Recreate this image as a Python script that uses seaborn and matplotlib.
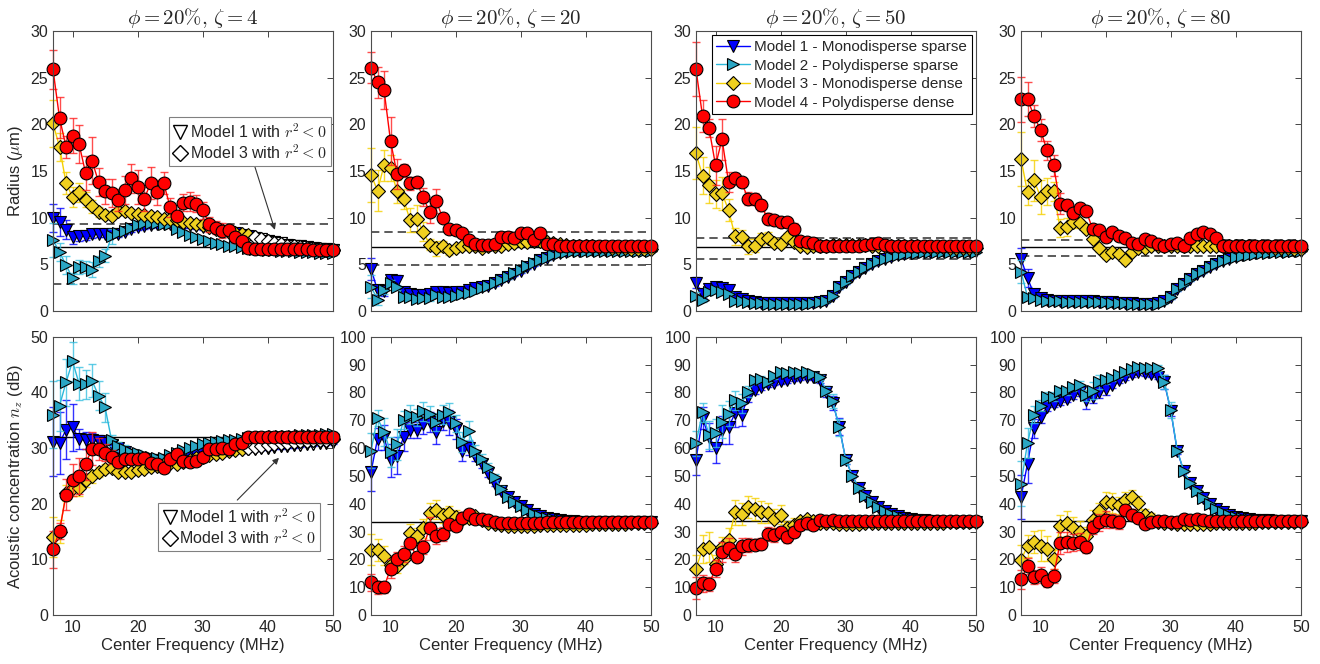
import numpy as np
import pandas as pd
import seaborn as sns
import matplotlib.pyplot as plt
from matplotlib.lines import Line2D

# center frequencies (MHz)
freq = list(range(7, 51))

# ---- Radius (um), zeta = 4 ----
rad_z4_m1 = [10.0, 9.5, 8.7, 7.9, 8.0, 8.0, 8.2, 8.2, 8.2, 8.2,
             8.2, 8.5, 8.8, 9.0, 9.1, 9.2, 9.3, 9.3, 9.3, 9.3,
             9.2, 9.2, 9.1, 9.0, 8.9, 8.8, 8.6, 8.5, 8.3, 8.1,
             8.0, 7.8, 7.7, 7.5, 7.4, 7.3, 7.1, 7.0, 6.9, 6.8,
             6.7, 6.6, 6.6, 6.5]
rad_z4_m1_err = [1.5, 1.5, 1.0, 0.7, 0.5, 0.4, 0.4, 0.3, 0.3, 0.3,
                 0.3, 0.3, 0.3, 0.3, 0.3, 0.3, 0.3, 0.3, 0.3, 0.3,
                 0.3, 0.3, 0.3, 0.3, 0.3, 0.3, 0.3, 0.3, 0.3, 0.3,
                 0.2, 0.2, 0.2, 0.2, 0.2, 0.2, 0.2, 0.2, 0.2, 0.2,
                 0.2, 0.2, 0.2, 0.2]
rad_z4_m2 = [7.6, 6.3, 4.9, 3.5, 4.7, 4.7, 4.4, 5.3, 5.9, 8.0,
             8.3, 8.6, 8.9, 9.2, 9.4, 9.4, 9.4, 9.3, 9.3, 8.8,
             8.4, 8.1, 7.9, 7.7, 7.5, 7.3, 7.2, 7.0, 6.9, 6.8,
             6.7, 6.6, 6.6, 6.5, 6.5, 6.4, 6.4, 6.4, 6.3, 6.3,
             6.3, 6.2, 6.2, 6.2]
rad_z4_m2_err = [1.8, 1.0, 1.0, 0.6, 0.8, 0.6, 0.8, 0.6, 0.7, 0.8,
                 0.3, 0.3, 0.2, 0.2, 0.2, 0.2, 0.2, 0.2, 0.2, 0.2,
                 0.2, 0.2, 0.2, 0.2, 0.2, 0.2, 0.2, 0.2, 0.2, 0.2,
                 0.2, 0.2, 0.2, 0.2, 0.2, 0.2, 0.2, 0.2, 0.2, 0.2,
                 0.2, 0.2, 0.2, 0.2]
rad_z4_m3 = [20.1, 17.6, 13.7, 12.2, 12.7, 11.9, 11.2, 10.6, 10.3, 10.2,
             10.7, 10.7, 10.5, 10.4, 10.3, 10.2, 10.1, 9.9, 9.8, 9.7,
             9.5, 9.4, 9.3, 9.2, 9.0, 8.8, 8.7, 8.5, 8.3, 8.2,
             8.1, 7.9, 7.7, 7.5, 7.3, 7.2, 7.0, 6.9, 6.8, 6.7,
             6.6, 6.6, 6.5, 6.5]
rad_z4_m3_err = [2.5, 1.5, 1.2, 1.1, 1.0, 0.8, 0.7, 0.5, 0.5, 0.4,
                 0.4, 0.4, 0.3, 0.3, 0.3, 0.3, 0.3, 0.3, 0.3, 0.3,
                 0.3, 0.3, 0.3, 0.3, 0.3, 0.3, 0.3, 0.3, 0.3, 0.3,
                 0.2, 0.2, 0.2, 0.2, 0.2, 0.2, 0.2, 0.2, 0.2, 0.2,
                 0.2, 0.2, 0.2, 0.2]
rad_z4_m4 = [25.9, 20.7, 17.6, 18.8, 17.9, 14.8, 16.1, 13.8, 12.8, 12.6,
             11.9, 13.0, 14.2, 13.3, 12.0, 13.7, 12.7, 13.7, 11.1, 10.2,
             11.6, 11.7, 11.5, 10.8, 9.3, 8.9, 8.6, 8.7, 7.9, 7.5,
             6.7, 6.6, 6.6, 6.6, 6.6, 6.6, 6.6, 6.6, 6.6, 6.6,
             6.5, 6.5, 6.5, 6.5]
rad_z4_m4_err = [2.1, 2.2, 1.2, 1.9, 2.0, 1.8, 2.5, 1.5, 1.3, 1.5,
                 1.2, 1.5, 1.6, 1.8, 1.3, 1.7, 1.3, 1.2, 1.0, 0.6,
                 0.9, 1.0, 0.9, 0.9, 0.8, 0.7, 0.8, 0.5, 0.6, 0.5,
                 0.3, 0.2, 0.2, 0.2, 0.2, 0.2, 0.2, 0.2, 0.2, 0.2,
                 0.2, 0.2, 0.2, 0.2]

# ---- Radius (um), zeta = 20 ----
rad_z20_m1 = [4.5, 2.2, 2.1, 3.3, 3.2, 2.0, 1.8, 1.7, 1.7, 1.8,
              2.0, 2.0, 1.9, 2.0, 2.0, 2.2, 2.4, 2.5, 2.7, 3.0,
              3.3, 3.6, 3.9, 4.3, 4.7, 5.0, 5.4, 5.7, 6.0, 6.2,
              6.3, 6.4, 6.4, 6.5, 6.5, 6.5, 6.5, 6.5, 6.5, 6.5,
              6.5, 6.5, 6.5, 6.5]
rad_z20_m1_err = [1.2, 0.5, 0.5, 0.4, 0.6, 0.4, 0.3, 0.3, 0.3, 0.3,
                  0.3, 0.3, 0.3, 0.3, 0.3, 0.3, 0.3, 0.3, 0.3, 0.3,
                  0.2, 0.2, 0.2, 0.2, 0.2, 0.2, 0.2, 0.2, 0.2, 0.2,
                  0.2, 0.2, 0.2, 0.2, 0.2, 0.2, 0.2, 0.2, 0.2, 0.2,
                  0.2, 0.2, 0.2, 0.2]
rad_z20_m2 = [2.6, 1.2, 2.2, 3.0, 2.5, 1.5, 1.5, 1.3, 1.4, 1.4,
              1.7, 1.5, 1.5, 1.6, 1.8, 1.9, 2.1, 2.4, 2.7, 3.0,
              3.3, 3.6, 4.0, 4.4, 4.8, 5.1, 5.4, 5.7, 6.0, 6.2,
              6.3, 6.4, 6.4, 6.4, 6.4, 6.4, 6.4, 6.4, 6.4, 6.4,
              6.4, 6.4, 6.4, 6.4]
rad_z20_m2_err = [1.2, 0.6, 0.4, 0.3, 0.3, 0.3, 0.3, 0.3, 0.3, 0.3,
                  0.2, 0.2, 0.2, 0.2, 0.2, 0.2, 0.2, 0.2, 0.2, 0.2,
                  0.2, 0.2, 0.2, 0.2, 0.2, 0.2, 0.2, 0.2, 0.2, 0.2,
                  0.2, 0.2, 0.2, 0.2, 0.2, 0.2, 0.2, 0.2, 0.2, 0.2,
                  0.2, 0.2, 0.2, 0.2]
rad_z20_m3 = [14.6, 12.9, 15.6, 15.3, 12.8, 12.0, 9.7, 9.9, 8.5, 7.1,
              6.7, 6.9, 6.5, 6.7, 6.9, 6.9, 6.9, 6.7, 6.9, 7.0,
              7.0, 7.2, 7.3, 7.4, 7.4, 7.5, 7.5, 7.4, 7.3, 7.2,
              7.1, 7.0, 7.0, 6.9, 6.9, 6.8, 6.8, 6.7, 6.7, 6.7,
              6.6, 6.6, 6.6, 6.6]
rad_z20_m3_err = [2.9, 2.2, 1.7, 1.4, 1.2, 1.1, 1.3, 1.4, 1.0, 0.6,
                  0.8, 0.6, 0.5, 0.4, 0.4, 0.4, 0.3, 0.3, 0.3, 0.3,
                  0.3, 0.3, 0.3, 0.3, 0.3, 0.3, 0.3, 0.3, 0.3, 0.3,
                  0.2, 0.2, 0.2, 0.2, 0.2, 0.2, 0.2, 0.2, 0.2, 0.2,
                  0.2, 0.2, 0.2, 0.2]
rad_z20_m4 = [26.1, 24.5, 23.7, 18.2, 14.7, 15.1, 13.7, 13.8, 12.2, 10.6,
              11.8, 10.0, 8.8, 8.7, 8.3, 7.6, 7.2, 7.1, 7.1, 7.2,
              7.9, 7.9, 7.8, 8.3, 8.3, 7.6, 8.3, 7.2, 7.2, 7.0,
              6.9, 6.9, 6.9, 6.9, 6.9, 6.9, 6.9, 6.9, 6.9, 6.9,
              6.9, 6.9, 6.9, 6.9]
rad_z20_m4_err = [1.7, 1.7, 2.0, 2.6, 1.6, 0.7, 0.7, 0.6, 1.0, 1.2,
                  1.3, 0.5, 0.4, 0.4, 0.3, 0.3, 0.3, 0.3, 0.3, 0.3,
                  0.5, 0.5, 0.4, 0.5, 0.5, 0.3, 0.3, 0.3, 0.3, 0.3,
                  0.2, 0.2, 0.2, 0.2, 0.2, 0.2, 0.2, 0.2, 0.2, 0.2,
                  0.2, 0.2, 0.2, 0.2]

# ---- Radius (um), zeta = 50 ----
rad_z50_m1 = [3.0, 1.8, 2.3, 2.6, 2.4, 2.2, 1.5, 1.3, 1.0, 0.9,
              0.8, 0.8, 0.8, 0.8, 0.8, 0.8, 0.8, 0.8, 0.8, 0.9,
              1.0, 1.6, 2.5, 3.1, 3.7, 4.2, 4.6, 5.0, 5.3, 5.6,
              5.8, 6.0, 6.1, 6.2, 6.3, 6.3, 6.3, 6.4, 6.4, 6.4,
              6.4, 6.4, 6.4, 6.4]
rad_z50_m1_err = [0.6, 0.4, 0.4, 0.4, 0.4, 0.3, 0.3, 0.2, 0.2, 0.2,
                  0.2, 0.2, 0.2, 0.2, 0.2, 0.2, 0.2, 0.2, 0.2, 0.2,
                  0.2, 0.2, 0.2, 0.2, 0.2, 0.2, 0.2, 0.2, 0.2, 0.2,
                  0.2, 0.2, 0.2, 0.2, 0.2, 0.2, 0.2, 0.2, 0.2, 0.2,
                  0.2, 0.2, 0.2, 0.2]
rad_z50_m2 = [1.6, 1.2, 2.0, 2.2, 2.0, 1.8, 1.0, 1.0, 0.9, 0.8,
              0.8, 0.7, 0.7, 0.7, 0.7, 0.7, 0.7, 0.7, 0.8, 0.9,
              1.0, 1.6, 2.5, 3.1, 3.7, 4.2, 4.6, 5.0, 5.3, 5.6,
              5.8, 6.0, 6.1, 6.2, 6.2, 6.3, 6.3, 6.3, 6.3, 6.3,
              6.3, 6.3, 6.3, 6.3]
rad_z50_m2_err = [0.4, 0.3, 0.3, 0.3, 0.3, 0.2, 0.2, 0.2, 0.2, 0.2,
                  0.2, 0.2, 0.2, 0.2, 0.2, 0.2, 0.2, 0.2, 0.2, 0.2,
                  0.2, 0.2, 0.2, 0.2, 0.2, 0.2, 0.2, 0.2, 0.2, 0.2,
                  0.2, 0.2, 0.2, 0.2, 0.2, 0.2, 0.2, 0.2, 0.2, 0.2,
                  0.2, 0.2, 0.2, 0.2]
rad_z50_m3 = [16.9, 14.5, 13.5, 12.5, 12.6, 10.8, 8.0, 7.9, 6.9, 7.0,
              7.7, 7.8, 7.3, 7.2, 7.9, 7.4, 6.9, 6.8, 7.0, 7.0,
              7.0, 7.1, 7.1, 7.1, 7.1, 7.1, 7.1, 7.0, 7.0, 7.0,
              7.0, 6.9, 6.9, 6.9, 6.9, 6.8, 6.8, 6.8, 6.8, 6.7,
              6.7, 6.7, 6.7, 6.7]
rad_z50_m3_err = [2.8, 2.0, 1.9, 1.5, 1.8, 1.2, 0.9, 0.8, 0.8, 0.7,
                  0.6, 0.6, 0.5, 0.5, 0.4, 0.3, 0.3, 0.3, 0.3, 0.3,
                  0.3, 0.3, 0.3, 0.3, 0.3, 0.3, 0.3, 0.3, 0.3, 0.3,
                  0.2, 0.2, 0.2, 0.2, 0.2, 0.2, 0.2, 0.2, 0.2, 0.2,
                  0.2, 0.2, 0.2, 0.2]
rad_z50_m4 = [25.9, 20.9, 19.6, 15.6, 18.4, 13.8, 14.3, 13.8, 12.0, 12.0,
              11.3, 9.9, 9.7, 9.5, 9.5, 8.8, 7.5, 7.4, 7.3, 7.0,
              6.9, 6.9, 6.9, 6.9, 7.0, 7.0, 7.1, 7.2, 7.3, 7.1,
              7.0, 6.9, 6.9, 6.9, 6.9, 6.9, 6.9, 6.9, 6.9, 6.9,
              6.9, 6.9, 6.9, 6.9]
rad_z50_m4_err = [2.9, 1.7, 1.0, 2.1, 2.2, 1.1, 0.5, 0.5, 0.7, 0.6,
                  0.6, 0.6, 0.5, 0.5, 0.5, 0.6, 0.3, 0.3, 0.3, 0.3,
                  0.3, 0.3, 0.3, 0.3, 0.3, 0.3, 0.3, 0.3, 0.3, 0.3,
                  0.2, 0.2, 0.2, 0.2, 0.2, 0.2, 0.2, 0.2, 0.2, 0.2,
                  0.2, 0.2, 0.2, 0.2]

# ---- Radius (um), zeta = 80 ----
rad_z80_m1 = [5.6, 3.5, 1.8, 1.4, 1.2, 1.1, 1.0, 1.0, 1.0, 1.0,
              1.0, 1.0, 0.9, 0.9, 0.9, 0.8, 0.8, 0.8, 0.7, 0.7,
              0.7, 0.8, 1.0, 1.5, 2.3, 2.9, 3.4, 3.9, 4.3, 4.7,
              5.0, 5.3, 5.6, 5.8, 6.0, 6.1, 6.2, 6.3, 6.3, 6.4,
              6.4, 6.4, 6.4, 6.4]
rad_z80_m1_err = [1.1, 1.0, 0.3, 0.2, 0.2, 0.2, 0.2, 0.2, 0.2, 0.2,
                  0.2, 0.2, 0.2, 0.2, 0.2, 0.2, 0.2, 0.2, 0.2, 0.2,
                  0.2, 0.2, 0.2, 0.2, 0.2, 0.2, 0.2, 0.2, 0.2, 0.2,
                  0.2, 0.2, 0.2, 0.2, 0.2, 0.2, 0.2, 0.2, 0.2, 0.2,
                  0.2, 0.2, 0.2, 0.2]
rad_z80_m2 = [4.2, 1.5, 1.4, 1.2, 1.1, 1.0, 1.0, 0.9, 0.9, 0.9,
              0.9, 0.9, 0.9, 0.9, 0.8, 0.8, 0.8, 0.7, 0.7, 0.7,
              0.7, 0.7, 0.9, 1.5, 2.3, 2.9, 3.4, 3.9, 4.3, 4.7,
              5.0, 5.3, 5.6, 5.8, 5.9, 6.0, 6.1, 6.2, 6.2, 6.3,
              6.3, 6.3, 6.4, 6.4]
rad_z80_m2_err = [1.2, 0.3, 0.2, 0.2, 0.2, 0.2, 0.2, 0.2, 0.2, 0.2,
                  0.2, 0.2, 0.2, 0.2, 0.2, 0.2, 0.2, 0.2, 0.2, 0.2,
                  0.2, 0.2, 0.2, 0.2, 0.2, 0.2, 0.2, 0.2, 0.2, 0.2,
                  0.2, 0.2, 0.2, 0.2, 0.2, 0.2, 0.2, 0.2, 0.2, 0.2,
                  0.2, 0.2, 0.2, 0.2]
rad_z80_m3 = [16.3, 12.7, 14.0, 12.2, 12.8, 12.8, 8.9, 9.0, 9.5, 9.4,
              8.8, 7.7, 6.7, 6.0, 6.3, 6.1, 5.4, 6.3, 6.7, 6.7,
              6.9, 7.0, 7.0, 6.9, 7.0, 7.0, 7.0, 7.0, 7.0, 7.0,
              7.0, 7.0, 7.0, 7.0, 6.9, 6.9, 6.8, 6.8, 6.8, 6.7,
              6.7, 6.7, 6.6, 6.6]
rad_z80_m3_err = [2.9, 1.3, 2.2, 1.8, 1.5, 1.0, 1.0, 1.0, 0.6, 0.5,
                  0.4, 0.4, 0.4, 0.4, 0.4, 0.4, 0.4, 0.3, 0.3, 0.3,
                  0.3, 0.3, 0.3, 0.3, 0.3, 0.3, 0.3, 0.3, 0.3, 0.3,
                  0.2, 0.2, 0.2, 0.2, 0.2, 0.2, 0.2, 0.2, 0.2, 0.2,
                  0.2, 0.2, 0.2, 0.2]
rad_z80_m4 = [22.7, 22.7, 20.9, 19.4, 17.2, 15.6, 11.5, 11.3, 10.5, 11.0,
              10.7, 8.8, 8.7, 7.9, 8.5, 8.0, 7.8, 7.3, 7.2, 7.7,
              7.5, 7.2, 7.0, 7.2, 7.3, 7.0, 7.8, 8.2, 8.5, 8.2,
              7.8, 7.0, 6.9, 6.9, 6.9, 6.9, 6.9, 6.9, 6.9, 6.9,
              6.9, 6.9, 6.9, 6.9]
rad_z80_m4_err = [2.4, 1.8, 1.2, 1.2, 1.0, 1.1, 1.1, 0.6, 0.6, 0.6,
                  0.5, 0.5, 0.3, 0.3, 0.3, 0.3, 0.3, 0.3, 0.3, 0.3,
                  0.3, 0.3, 0.3, 0.3, 0.3, 0.3, 0.4, 0.4, 0.4, 0.4,
                  0.3, 0.2, 0.2, 0.2, 0.2, 0.2, 0.2, 0.2, 0.2, 0.2,
                  0.2, 0.2, 0.2, 0.2]

# ---- Acoustic concentration nz (dB), zeta = 4 ----
nz_z4_m1 = [31.1, 30.9, 33.3, 33.7, 31.7, 31.4, 31.4, 31.3, 31.0, 30.5,
            30.0, 29.3, 28.8, 28.3, 28.0, 27.8, 27.8, 27.9, 28.0, 28.2,
            28.4, 28.6, 28.8, 29.0, 29.2, 29.3, 29.4, 29.5, 29.6, 29.7,
            29.8, 29.9, 30.0, 30.1, 30.2, 30.3, 30.4, 30.5, 30.6, 30.7,
            30.8, 30.9, 31.0, 31.1]
nz_z4_m1_err = [6.2, 5.5, 5.3, 4.3, 1.8, 1.5, 1.3, 1.0, 1.0, 0.8,
                0.6, 0.5, 0.5, 0.5, 0.5, 0.5, 0.5, 0.5, 0.5, 0.5,
                0.5, 0.5, 0.5, 0.5, 0.5, 0.5, 0.5, 0.5, 0.5, 0.5,
                0.4, 0.4, 0.4, 0.4, 0.4, 0.4, 0.4, 0.4, 0.4, 0.4,
                0.4, 0.4, 0.4, 0.4]
nz_z4_m2 = [36.0, 37.6, 41.8, 45.6, 41.6, 41.5, 42.1, 39.4, 37.3, 31.4,
            30.3, 29.9, 29.3, 29.2, 28.7, 28.4, 28.3, 28.3, 28.7, 29.2,
            29.6, 30.1, 30.4, 30.7, 31.0, 31.1, 31.3, 31.4, 31.5, 31.7,
            31.8, 31.9, 32.0, 32.0, 32.1, 32.1, 32.2, 32.2, 32.3, 32.3,
            32.4, 32.4, 32.5, 32.5]
nz_z4_m2_err = [6.0, 4.6, 4.2, 3.5, 3.0, 2.6, 3.0, 2.6, 2.6, 1.0,
                0.8, 0.6, 0.5, 0.5, 0.5, 0.5, 0.5, 0.5, 0.5, 0.5,
                0.5, 0.5, 0.5, 0.5, 0.5, 0.5, 0.5, 0.5, 0.5, 0.5,
                0.4, 0.4, 0.4, 0.4, 0.4, 0.4, 0.4, 0.4, 0.4, 0.4,
                0.4, 0.4, 0.4, 0.4]
nz_z4_m3 = [14.1, 15.0, 21.9, 22.8, 22.8, 24.2, 24.9, 25.7, 26.3, 26.5,
            25.7, 25.7, 25.7, 26.0, 26.2, 26.6, 26.8, 27.1, 27.4, 27.2,
            27.5, 27.8, 28.3, 28.4, 28.7, 29.0, 29.2, 29.5, 29.6, 29.9,
            30.1, 30.2, 30.4, 30.6, 30.8, 30.9, 31.0, 31.1, 31.2, 31.3,
            31.4, 31.5, 31.5, 31.6]
nz_z4_m3_err = [3.6, 2.0, 1.5, 1.5, 1.4, 1.2, 1.1, 0.9, 0.8, 0.7,
                0.6, 0.6, 0.5, 0.5, 0.5, 0.5, 0.5, 0.5, 0.5, 0.5,
                0.5, 0.5, 0.5, 0.5, 0.5, 0.5, 0.5, 0.5, 0.5, 0.5,
                0.4, 0.4, 0.4, 0.4, 0.4, 0.4, 0.4, 0.4, 0.4, 0.4,
                0.4, 0.4, 0.4, 0.4]
nz_z4_m4 = [11.8, 15.1, 21.6, 24.2, 25.0, 27.1, 29.9, 29.8, 29.2, 28.4,
            27.5, 28.0, 28.0, 28.1, 28.3, 27.4, 27.1, 26.5, 28.0, 29.0,
            27.7, 27.5, 27.7, 28.4, 29.9, 29.9, 30.0, 29.9, 30.7, 31.0,
            31.9, 32.0, 32.0, 32.0, 32.0, 32.0, 32.0, 32.0, 32.0, 32.0,
            32.0, 32.0, 32.0, 32.0]
nz_z4_m4_err = [3.3, 1.4, 2.8, 2.9, 3.3, 2.8, 2.9, 2.0, 1.5, 1.3,
                1.0, 0.8, 0.7, 0.6, 0.6, 0.6, 0.6, 0.6, 0.6, 0.6,
                0.6, 0.6, 0.6, 0.6, 0.6, 0.6, 0.6, 0.6, 0.6, 0.6,
                0.4, 0.4, 0.4, 0.4, 0.4, 0.4, 0.4, 0.4, 0.4, 0.4,
                0.4, 0.4, 0.4, 0.4]

# ---- Acoustic concentration nz (dB), zeta = 20 ----
nz_z20_m1 = [51.4, 63.3, 63.9, 55.6, 57.3, 63.9, 66.5, 66.5, 68.7, 69.3,
             65.9, 69.9, 69.3, 66.9, 58.8, 60.0, 57.3, 54.4, 51.0, 47.2,
             44.6, 42.4, 40.6, 39.1, 37.6, 36.4, 35.5, 34.9, 34.4, 34.0,
             33.8, 33.7, 33.6, 33.5, 33.5, 33.5, 33.5, 33.5, 33.5, 33.5,
             33.5, 33.5, 33.5, 33.5]
nz_z20_m1_err = [7.0, 4.0, 4.5, 6.0, 6.5, 5.0, 3.0, 3.0, 3.5, 3.5,
                 4.5, 3.5, 4.5, 3.5, 3.5, 2.5, 2.0, 1.5, 1.3, 1.0,
                 1.0, 0.8, 0.8, 0.6, 0.6, 0.6, 0.6, 0.6, 0.6, 0.6,
                 0.6, 0.6, 0.6, 0.6, 0.6, 0.6, 0.6, 0.6, 0.6, 0.6,
                 0.6, 0.6, 0.6, 0.6]
nz_z20_m2 = [59.0, 70.8, 65.8, 58.6, 61.3, 70.0, 72.0, 71.1, 73.2, 72.3,
             69.3, 72.0, 72.9, 68.9, 62.1, 66.3, 59.1, 56.2, 53.2, 49.6,
             45.4, 42.4, 40.6, 39.1, 37.6, 36.4, 35.5, 34.9, 34.4, 34.0,
             33.8, 33.7, 33.6, 33.5, 33.5, 33.5, 33.5, 33.5, 33.5, 33.5,
             33.5, 33.5, 33.5, 33.5]
nz_z20_m2_err = [6.3, 3.0, 5.0, 5.5, 5.5, 3.3, 3.5, 3.0, 3.3, 3.0,
                 3.2, 3.5, 3.3, 3.0, 3.5, 3.3, 2.0, 1.5, 1.3, 1.0,
                 0.8, 0.8, 0.6, 0.6, 0.6, 0.6, 0.6, 0.6, 0.6, 0.6,
                 0.6, 0.6, 0.6, 0.6, 0.6, 0.6, 0.6, 0.6, 0.6, 0.6,
                 0.6, 0.6, 0.6, 0.6]
nz_z20_m3 = [23.5, 23.3, 21.3, 17.9, 17.6, 20.3, 29.3, 28.3, 31.1, 36.7,
             37.9, 35.8, 36.7, 35.2, 34.6, 35.0, 35.5, 34.1, 33.2, 32.6,
             32.3, 31.9, 32.0, 32.0, 32.1, 32.1, 32.2, 32.2, 32.3, 32.3,
             32.4, 32.4, 32.5, 32.5, 32.6, 32.6, 32.7, 32.7, 32.8, 32.8,
             32.9, 33.0, 33.1, 33.2]
nz_z20_m3_err = [5.5, 4.0, 3.5, 2.5, 2.5, 2.0, 3.5, 3.0, 3.5, 3.5,
                 3.5, 2.8, 2.5, 2.5, 2.0, 1.5, 1.0, 0.8, 0.6, 0.6,
                 0.6, 0.6, 0.6, 0.6, 0.6, 0.6, 0.6, 0.6, 0.6, 0.6,
                 0.6, 0.6, 0.6, 0.6, 0.6, 0.6, 0.6, 0.6, 0.6, 0.6,
                 0.6, 0.6, 0.6, 0.6]
nz_z20_m4 = [11.7, 9.9, 9.9, 16.7, 20.0, 21.9, 25.7, 20.9, 24.5, 31.1,
             28.4, 29.0, 32.6, 32.0, 35.0, 36.2, 34.6, 34.4, 34.1, 33.5,
             33.2, 33.1, 33.0, 33.1, 33.2, 33.2, 33.2, 33.3, 33.3, 33.3,
             33.3, 33.3, 33.3, 33.3, 33.3, 33.3, 33.3, 33.3, 33.3, 33.3,
             33.3, 33.3, 33.3, 33.3]
nz_z20_m4_err = [3.0, 2.3, 2.0, 3.5, 2.5, 3.0, 2.0, 1.5, 2.5, 4.0,
                 3.0, 2.5, 2.0, 1.5, 2.0, 1.5, 1.0, 0.8, 0.6, 0.6,
                 0.6, 0.6, 0.6, 0.6, 0.6, 0.6, 0.6, 0.6, 0.6, 0.6,
                 0.6, 0.6, 0.6, 0.6, 0.6, 0.6, 0.6, 0.6, 0.6, 0.6,
                 0.6, 0.6, 0.6, 0.6]

# ---- Acoustic concentration nz (dB), zeta = 50 ----
nz_z50_m1 = [55.8, 70.7, 63.9, 60.0, 66.5, 67.5, 72.5, 71.9, 78.5, 80.9,
             82.1, 82.9, 83.5, 84.1, 84.5, 85.1, 85.4, 85.7, 85.4, 84.5,
             80.3, 76.3, 67.7, 55.8, 50.1, 45.6, 42.7, 40.5, 38.8, 37.3,
             36.3, 35.5, 34.9, 34.5, 34.2, 34.0, 33.8, 33.7, 33.6, 33.5,
             33.5, 33.5, 33.5, 33.5]
nz_z50_m1_err = [5.5, 4.0, 5.0, 5.5, 5.0, 6.0, 5.0, 4.0, 2.0, 1.5,
                 1.2, 1.0, 1.0, 1.0, 1.0, 1.0, 1.0, 1.0, 1.0, 1.2,
                 2.0, 2.5, 3.0, 1.5, 1.0, 0.8, 0.8, 0.6, 0.6, 0.6,
                 0.6, 0.6, 0.6, 0.6, 0.6, 0.6, 0.6, 0.6, 0.6, 0.6,
                 0.6, 0.6, 0.6, 0.6]
nz_z50_m2 = [61.8, 72.8, 64.8, 65.4, 69.5, 72.3, 77.1, 76.1, 80.3, 84.5,
             84.8, 83.9, 85.9, 87.5, 87.1, 87.5, 87.1, 87.2, 86.5, 85.4,
             80.6, 76.9, 67.4, 55.8, 50.1, 45.6, 42.7, 40.5, 38.8, 37.3,
             36.3, 35.5, 34.9, 34.5, 34.2, 34.0, 33.8, 33.7, 33.6, 33.5,
             33.5, 33.5, 33.5, 33.5]
nz_z50_m2_err = [4.5, 3.5, 5.0, 5.0, 6.0, 4.5, 3.5, 3.5, 2.0, 1.5,
                 1.0, 1.0, 1.0, 1.0, 1.0, 1.0, 1.0, 1.0, 1.0, 1.0,
                 1.5, 2.5, 3.0, 1.5, 1.0, 0.8, 0.8, 0.6, 0.6, 0.6,
                 0.6, 0.6, 0.6, 0.6, 0.6, 0.6, 0.6, 0.6, 0.6, 0.6,
                 0.6, 0.6, 0.6, 0.6]
nz_z50_m3 = [16.6, 23.8, 24.4, 18.2, 24.5, 27.1, 36.9, 36.4, 38.8, 38.2,
             36.9, 36.7, 34.5, 36.1, 31.3, 32.5, 33.9, 34.5, 33.7, 33.2,
             33.0, 33.0, 32.8, 32.8, 32.8, 32.8, 32.9, 32.9, 32.9, 33.0,
             33.0, 33.0, 33.0, 33.1, 33.1, 33.1, 33.2, 33.2, 33.2, 33.3,
             33.3, 33.3, 33.4, 33.4]
nz_z50_m3_err = [5.0, 5.0, 5.5, 3.5, 3.5, 4.0, 4.5, 4.0, 4.0, 4.0,
                 4.0, 3.5, 3.5, 3.5, 2.5, 2.5, 1.5, 1.0, 0.8, 0.6,
                 0.6, 0.6, 0.6, 0.6, 0.6, 0.6, 0.6, 0.6, 0.6, 0.6,
                 0.6, 0.6, 0.6, 0.6, 0.6, 0.6, 0.6, 0.6, 0.6, 0.6,
                 0.6, 0.6, 0.6, 0.6]
nz_z50_m4 = [9.8, 11.4, 11.2, 16.6, 22.6, 24.1, 22.1, 24.7, 25.0, 25.3,
             25.6, 29.2, 28.7, 29.7, 28.0, 29.9, 32.5, 32.9, 32.5, 34.1,
             33.7, 34.1, 33.7, 33.8, 33.8, 33.8, 33.8, 33.8, 33.8, 33.8,
             33.8, 33.8, 33.8, 33.8, 33.8, 33.8, 33.8, 33.8, 33.8, 33.8,
             33.8, 33.8, 33.8, 33.8]
nz_z50_m4_err = [4.0, 3.0, 2.5, 3.0, 3.5, 3.5, 3.0, 3.0, 2.5, 2.0,
                 2.0, 2.5, 2.5, 2.0, 2.0, 2.0, 1.5, 1.0, 0.8, 0.6,
                 0.6, 0.6, 0.6, 0.6, 0.6, 0.6, 0.6, 0.6, 0.6, 0.6,
                 0.6, 0.6, 0.6, 0.6, 0.6, 0.6, 0.6, 0.6, 0.6, 0.6,
                 0.6, 0.6, 0.6, 0.6]

# ---- Acoustic concentration nz (dB), zeta = 80 ----
nz_z80_m1 = [42.4, 54.4, 67.1, 71.1, 74.9, 75.9, 76.8, 77.7, 78.9, 80.0,
             77.1, 78.3, 80.0, 81.2, 82.8, 84.5, 85.4, 86.6, 87.2, 86.9,
             86.6, 85.7, 83.6, 73.5, 58.9, 51.7, 47.4, 44.6, 42.1, 40.0,
             38.2, 37.0, 35.8, 35.2, 34.8, 34.5, 34.3, 34.1, 34.0, 33.9,
             33.9, 33.8, 33.8, 33.8]
nz_z80_m1_err = [8.0, 7.0, 3.5, 2.0, 1.5, 1.2, 1.2, 1.2, 1.2, 1.2,
                 3.0, 2.0, 2.0, 2.0, 1.2, 1.0, 1.0, 1.0, 1.0, 1.0,
                 1.0, 1.0, 2.5, 2.0, 1.0, 0.8, 0.8, 0.6, 0.6, 0.6,
                 0.6, 0.6, 0.6, 0.6, 0.6, 0.6, 0.6, 0.6, 0.6, 0.6,
                 0.6, 0.6, 0.6, 0.6]
nz_z80_m2 = [47.2, 61.8, 72.0, 75.3, 78.5, 78.5, 80.6, 80.4, 81.8, 82.8,
             78.9, 80.6, 83.6, 84.5, 85.2, 86.3, 87.2, 88.4, 89.0, 88.8,
             88.6, 88.8, 83.9, 73.7, 59.1, 51.7, 47.4, 44.6, 42.1, 40.0,
             38.2, 37.0, 35.8, 35.2, 34.8, 34.5, 34.3, 34.1, 34.0, 33.9,
             33.9, 33.8, 33.8, 33.8]
nz_z80_m2_err = [8.0, 5.5, 3.0, 2.0, 1.5, 1.5, 1.2, 1.2, 1.2, 1.2,
                 2.0, 3.0, 2.5, 1.5, 1.2, 1.0, 1.0, 1.0, 1.0, 1.0,
                 1.0, 1.0, 2.5, 3.0, 1.0, 0.8, 0.8, 0.6, 0.6, 0.6,
                 0.6, 0.6, 0.6, 0.6, 0.6, 0.6, 0.6, 0.6, 0.6, 0.6,
                 0.6, 0.6, 0.6, 0.6]
nz_z80_m3 = [19.7, 24.9, 26.3, 24.9, 23.9, 20.0, 32.0, 32.9, 31.1, 29.9,
             28.3, 34.1, 37.4, 40.6, 40.3, 39.4, 41.2, 42.4, 40.3, 36.1,
             35.0, 33.5, 33.2, 33.0, 32.8, 32.7, 32.6, 32.6, 32.7, 32.8,
             32.9, 33.0, 33.0, 33.1, 33.1, 33.2, 33.2, 33.3, 33.3, 33.3,
             33.4, 33.4, 33.5, 33.5]
nz_z80_m3_err = [5.5, 4.0, 4.0, 5.5, 4.5, 3.5, 4.0, 4.5, 4.0, 4.0,
                 3.5, 3.5, 3.0, 3.5, 3.5, 3.0, 3.0, 2.5, 2.5, 2.0,
                 1.5, 1.0, 0.8, 0.6, 0.6, 0.6, 0.6, 0.6, 0.6, 0.6,
                 0.6, 0.6, 0.6, 0.6, 0.6, 0.6, 0.6, 0.6, 0.6, 0.6,
                 0.6, 0.6, 0.6, 0.6]
nz_z80_m4 = [12.8, 17.6, 13.7, 14.3, 12.2, 14.0, 25.9, 26.3, 26.0, 26.3,
             24.3, 31.7, 33.3, 34.3, 33.7, 33.5, 37.6, 36.1, 34.9, 32.6,
             33.5, 33.7, 33.7, 33.6, 33.6, 34.6, 34.3, 34.6, 34.1, 33.9,
             33.9, 33.8, 33.8, 33.8, 33.8, 33.8, 33.8, 33.8, 33.8, 33.8,
             33.8, 33.8, 33.8, 33.8]
nz_z80_m4_err = [3.5, 3.0, 2.5, 2.8, 2.0, 2.5, 4.0, 3.5, 3.0, 3.0,
                 2.0, 2.5, 3.0, 3.0, 2.5, 2.5, 2.0, 2.0, 1.5, 1.0,
                 0.8, 0.6, 0.6, 0.6, 0.6, 0.6, 0.6, 0.6, 0.6, 0.6,
                 0.6, 0.6, 0.6, 0.6, 0.6, 0.6, 0.6, 0.6, 0.6, 0.6,
                 0.6, 0.6, 0.6, 0.6]

# reference lines per panel
zetas = [4, 20, 50, 80]
rad_true = [6.8, 6.8, 6.8, 6.8]
rad_upper = [9.3, 8.4, 7.8, 7.6]
rad_lower = [2.85, 4.95, 5.6, 5.9]
nz_true = [32.0, 33.5, 33.7, 33.7]

# Model 1 / Model 3 fits with r^2 < 0 (zeta = 4 only), from this frequency on
r2neg_rad_from = 38
r2neg_nz_from = 37

model_names = ['Model 1 - Monodisperse sparse', 'Model 2 - Polydisperse sparse',
               'Model 3 - Monodisperse dense', 'Model 4 - Polydisperse dense']
markers = ['v', '>', 'D', 'o']
msizes = [9.2, 9.2, 7.3, 9.2]
face_colors = ['#0000ff', '#2aa6c4', '#f0d020', '#ff0000']
line_colors = ['#0000ff', '#2cb8da', '#f5d000', '#ff0000']
err_colors = ['#0000ff', '#38c0e0', '#f5d000', '#ff2020']

rad_panels = [
    [(rad_z4_m1, rad_z4_m1_err), (rad_z4_m2, rad_z4_m2_err), (rad_z4_m3, rad_z4_m3_err), (rad_z4_m4, rad_z4_m4_err)],
    [(rad_z20_m1, rad_z20_m1_err), (rad_z20_m2, rad_z20_m2_err), (rad_z20_m3, rad_z20_m3_err), (rad_z20_m4, rad_z20_m4_err)],
    [(rad_z50_m1, rad_z50_m1_err), (rad_z50_m2, rad_z50_m2_err), (rad_z50_m3, rad_z50_m3_err), (rad_z50_m4, rad_z50_m4_err)],
    [(rad_z80_m1, rad_z80_m1_err), (rad_z80_m2, rad_z80_m2_err), (rad_z80_m3, rad_z80_m3_err), (rad_z80_m4, rad_z80_m4_err)],
]
nz_panels = [
    [(nz_z4_m1, nz_z4_m1_err), (nz_z4_m2, nz_z4_m2_err), (nz_z4_m3, nz_z4_m3_err), (nz_z4_m4, nz_z4_m4_err)],
    [(nz_z20_m1, nz_z20_m1_err), (nz_z20_m2, nz_z20_m2_err), (nz_z20_m3, nz_z20_m3_err), (nz_z20_m4, nz_z20_m4_err)],
    [(nz_z50_m1, nz_z50_m1_err), (nz_z50_m2, nz_z50_m2_err), (nz_z50_m3, nz_z50_m3_err), (nz_z50_m4, nz_z50_m4_err)],
    [(nz_z80_m1, nz_z80_m1_err), (nz_z80_m2, nz_z80_m2_err), (nz_z80_m3, nz_z80_m3_err), (nz_z80_m4, nz_z80_m4_err)],
]

#Styling
sns.set_style('white')
plt.rcParams['font.family'] = ['Liberation Sans', 'DejaVu Sans']
plt.rcParams['mathtext.fontset'] = 'cm'
plt.rcParams['xtick.direction'] = 'in'
plt.rcParams['ytick.direction'] = 'in'
plt.rcParams['axes.edgecolor'] = '#4d4d4d'
plt.rcParams['axes.linewidth'] = 0.8
plt.rcParams['xtick.color'] = '#262626'
plt.rcParams['ytick.color'] = '#262626'


def draw_series(ax, vals, errs, k, hollow_from=None):
    df = pd.DataFrame({'freq': freq, 'val': vals})
    eb = ax.errorbar(freq, vals, yerr=errs, fmt='none', ecolor=err_colors[k],
                     elinewidth=1.0, capsize=3, capthick=1.0, alpha=0.8)
    for art in eb.lines[1] + eb.lines[2]:
        art.set_clip_on(False)
    sns.lineplot(data=df, x='freq', y='val', ax=ax, color=line_colors[k],
                 linewidth=1.0, marker=markers[k], markersize=msizes[k],
                 markerfacecolor=face_colors[k], markeredgecolor='black',
                 markeredgewidth=0.8, legend=False, clip_on=False)
    if hollow_from is not None:
        sub = df[df['freq'] >= hollow_from]
        ax.plot(sub['freq'], sub['val'], ls='none', marker=markers[k],
                markersize=msizes[k], markerfacecolor='white',
                markeredgecolor='black', markeredgewidth=0.8, clip_on=False)


def style_axis(ax, ylim, yticks):
    ax.set_xlim(7, 50)
    ax.set_ylim(*ylim)
    ax.set_xticks([10, 20, 30, 40, 50])
    ax.set_yticks(yticks)
    ax.tick_params(axis='both', which='both', top=True, right=True,
                   length=4, width=0.6, labelsize=11.5, colors='#262626')
    ax.set_xlabel('')
    ax.set_ylabel('')


fig, axes = plt.subplots(2, 4, figsize=(13.2, 6.64), dpi=100)
lefts = [53, 371, 696, 1021]
for c in range(4):
    axes[0, c].set_position([lefts[c] / 1320, 0.532, 280 / 1320, 0.421])
    axes[1, c].set_position([lefts[c] / 1320, 0.0738, 280 / 1320, 0.419])

for c in range(4):
    # radius row
    ax = axes[0, c]
    ax.axhline(rad_true[c], color='black', lw=1.0, zorder=1)
    ax.axhline(rad_upper[c], color='#404040', lw=1.2, ls=(0, (5, 3)), zorder=1)
    ax.axhline(rad_lower[c], color='#404040', lw=1.2, ls=(0, (5, 3)), zorder=1)
    for k, (vals, errs) in enumerate(rad_panels[c]):
        hf = r2neg_rad_from if (c == 0 and k in (0, 2)) else None
        draw_series(ax, vals, errs, k, hf)
    style_axis(ax, (0, 30), [0, 5, 10, 15, 20, 25, 30])
    ax.set_xticklabels([])
    ax.set_title(r'$\phi = 20\%,\, \zeta = ' + str(zetas[c]) + '$', fontsize=15, pad=5)

    # concentration row
    ax = axes[1, c]
    ax.axhline(nz_true[c], color='black', lw=1.0, zorder=1)
    for k, (vals, errs) in enumerate(nz_panels[c]):
        hf = r2neg_nz_from if (c == 0 and k in (0, 2)) else None
        draw_series(ax, vals, errs, k, hf)
    if c == 0:
        style_axis(ax, (0, 50), [0, 10, 20, 30, 40, 50])
    else:
        style_axis(ax, (0, 100), list(range(0, 101, 10)))
    ax.set_xlabel('Center Frequency (MHz)', fontsize=12, color='#262626', labelpad=2)

axes[0, 0].set_ylabel(r'Radius ($\mu$m)', fontsize=12, color='#262626')
axes[1, 0].set_ylabel(r'Acoustic concentration $n_z$ (dB)', fontsize=12, color='#262626')

# model legend
handles = [Line2D([], [], color=line_colors[k], lw=1.0, marker=markers[k],
                  markersize=msizes[k], markerfacecolor=face_colors[k],
                  markeredgecolor='black', markeredgewidth=0.8)
           for k in range(4)]
leg = axes[0, 2].legend(handles, model_names, loc='upper right',
                        bbox_to_anchor=(0.985, 0.985), borderaxespad=0,
                        fontsize=11, frameon=True, fancybox=False,
                        edgecolor='black', framealpha=1, handlelength=2.2,
                        handletextpad=0.3, labelspacing=0.3, borderpad=0.3)
leg.get_frame().set_linewidth(0.8)
leg.set_zorder(10)

# r^2 < 0 notes in the zeta = 4 panels
neg_handles = [Line2D([], [], ls='none', marker='v', markersize=10,
                      markerfacecolor='white', markeredgecolor='black'),
               Line2D([], [], ls='none', marker='D', markersize=8,
                      markerfacecolor='white', markeredgecolor='black')]
neg_labels = [r'Model 1 with $r^2 < 0$', r'Model 3 with $r^2 < 0$']
for ax, anchor in ((axes[0, 0], (0.993, 0.692)), (axes[1, 0], (0.955, 0.404))):
    lg = ax.legend(neg_handles, neg_labels, loc='upper right', bbox_to_anchor=anchor,
                   borderaxespad=0, fontsize=11.5, frameon=True, fancybox=False,
                   edgecolor='#808080', framealpha=1, handlelength=0.8,
                   handletextpad=0.2, labelspacing=0.15, borderpad=0.3)
    lg.get_frame().set_linewidth(0.8)
    lg.set_zorder(10)

axes[0, 0].annotate('', xy=(41.2, 8.4), xytext=(37.8, 15.9),
                    arrowprops=dict(arrowstyle='-|>', color='#333333', lw=0.8,
                                    mutation_scale=9))
axes[1, 0].annotate('', xy=(42.0, 28.6), xytext=(35.0, 20.3),
                    arrowprops=dict(arrowstyle='-|>', color='#333333', lw=0.8,
                                    mutation_scale=9))

fig.savefig('out.png', dpi=100)
